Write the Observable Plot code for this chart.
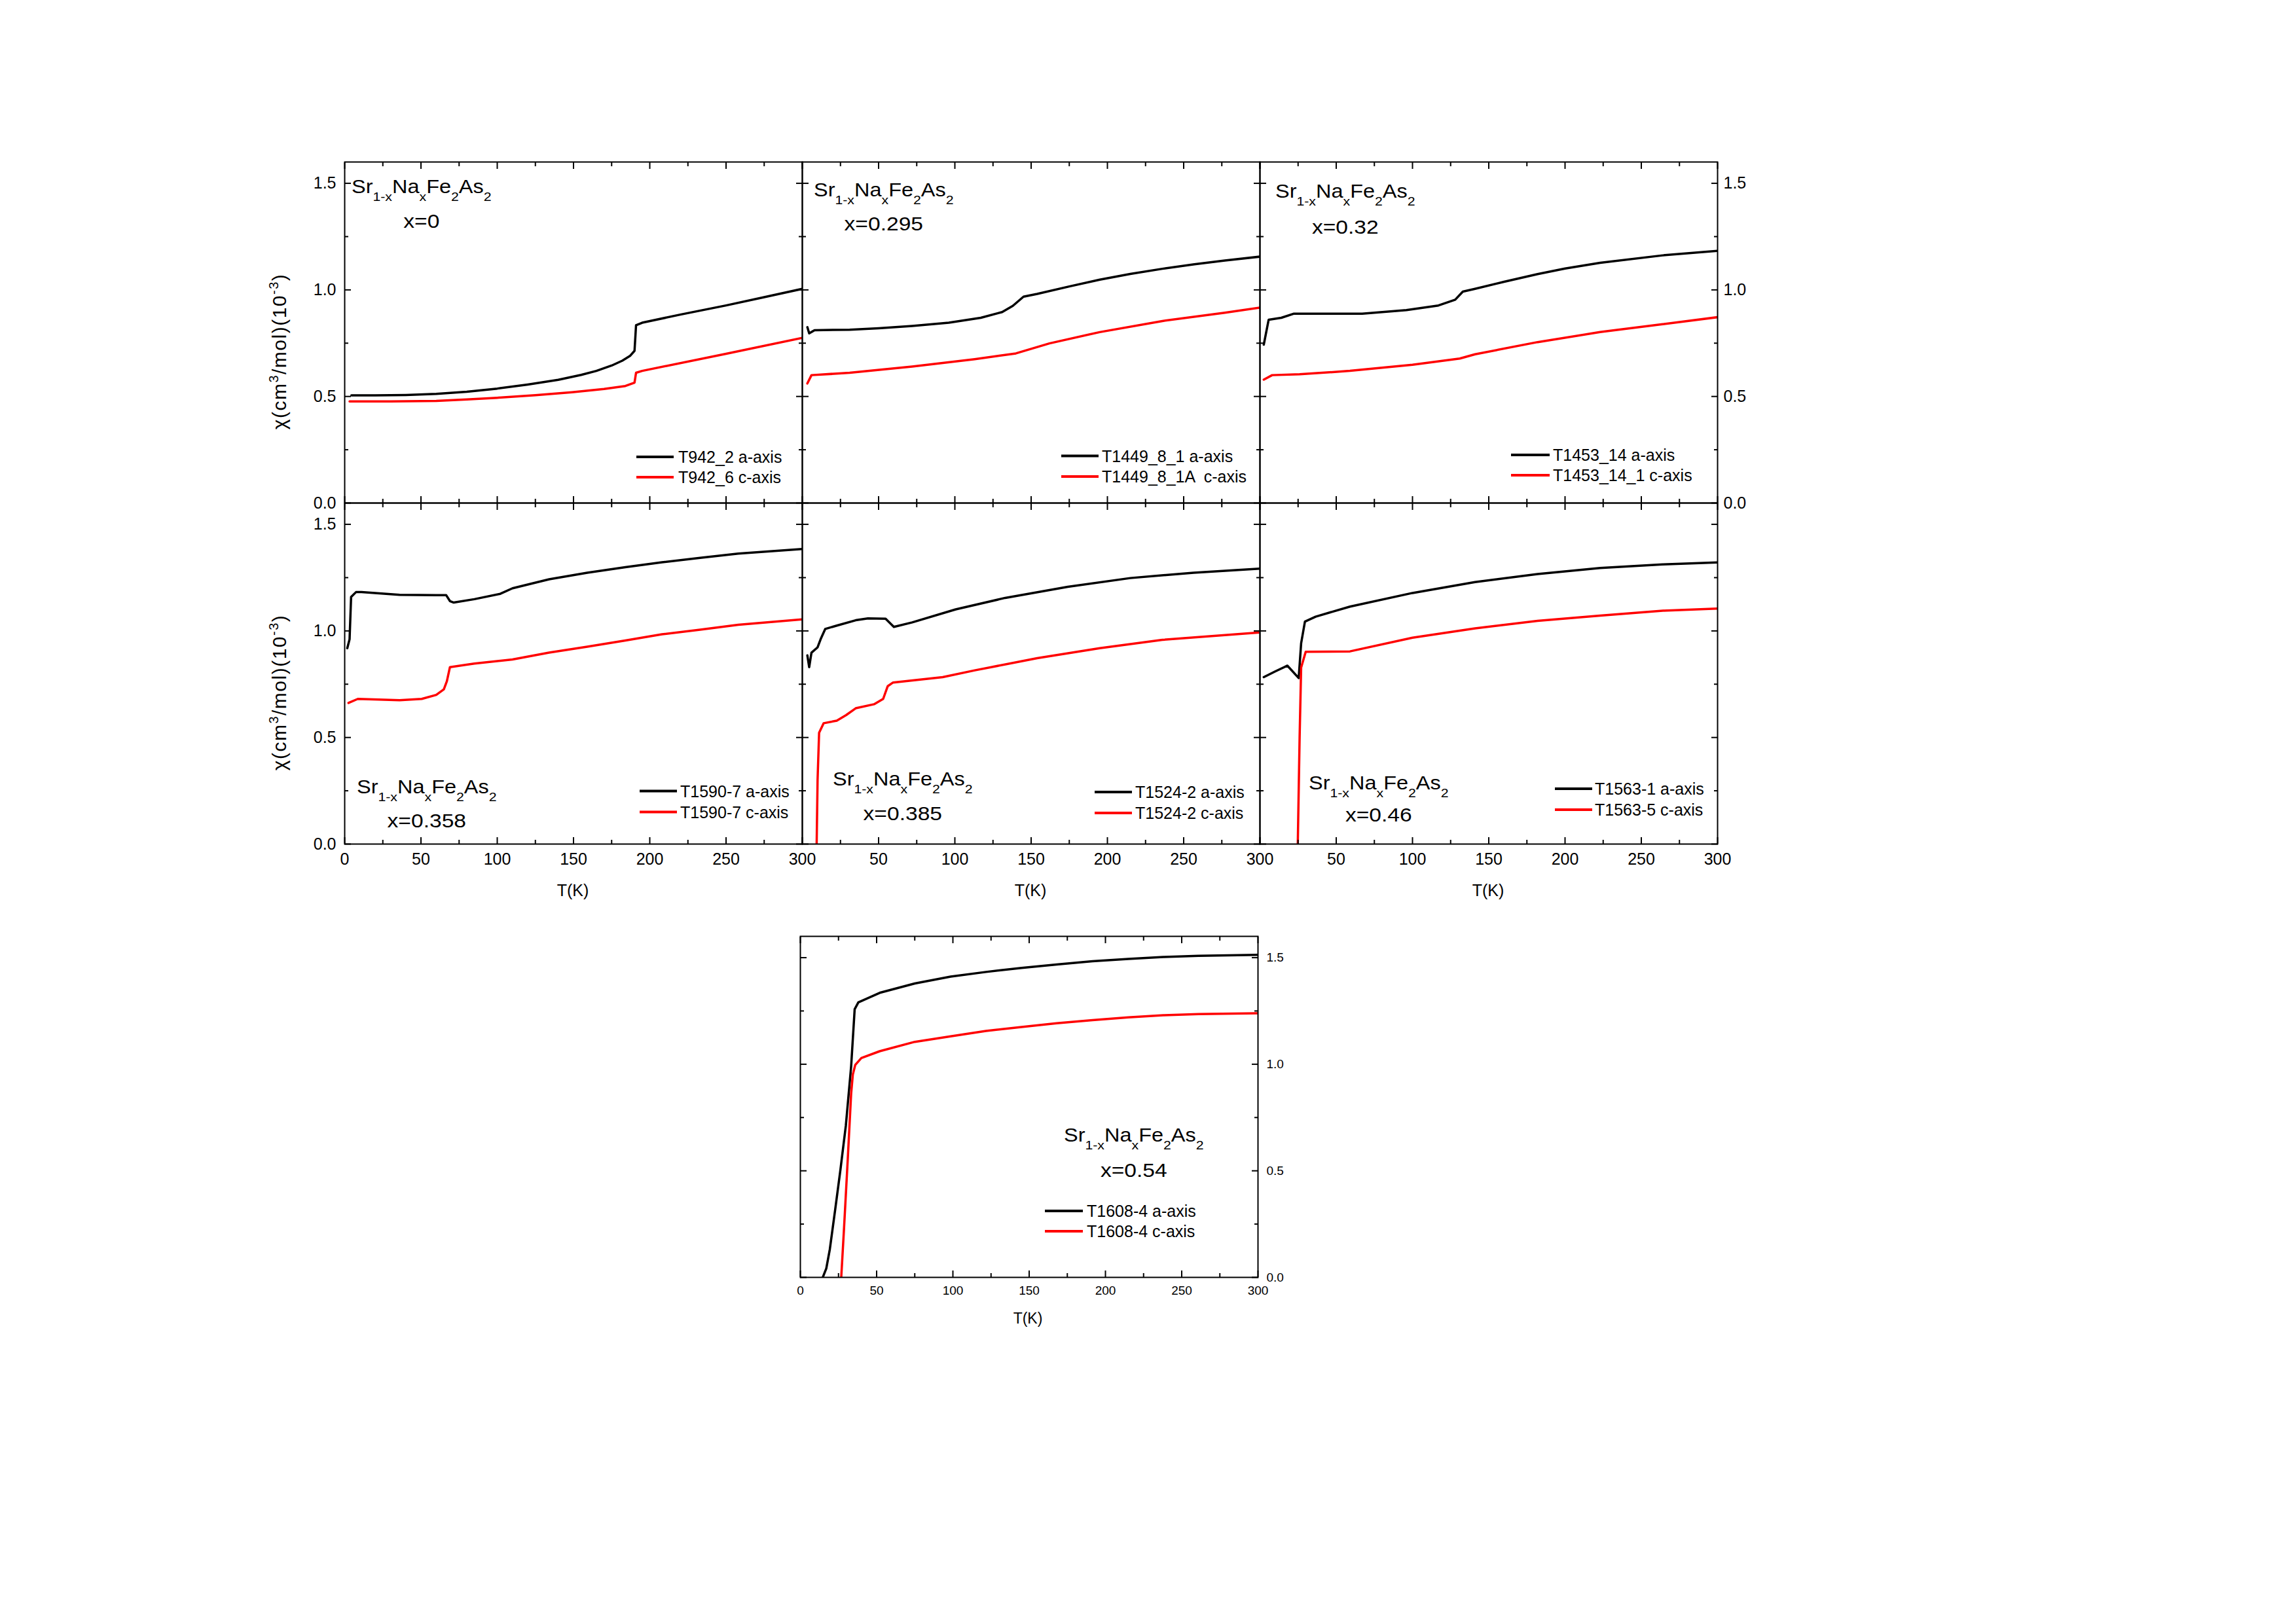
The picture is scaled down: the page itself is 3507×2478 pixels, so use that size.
<!DOCTYPE html>
<html><head><meta charset="utf-8">
<script src="https://cdn.jsdelivr.net/npm/d3@7"></script>
<script src="https://cdn.jsdelivr.net/npm/@observablehq/plot@0.6"></script>
<style>
html,body{margin:0;padding:0;background:#fff;}
#wrap{position:relative;width:3507px;height:2478px;overflow:hidden;background:#fff;}
#wrap > svg{position:absolute;}
</style></head><body><div id="wrap"></div>
<script>
const FONT = "'Liberation Sans', Arial, Helvetica, sans-serif";
const xMajor = [0, 50, 100, 150, 200, 250, 300];
const xMinor = [25, 75, 125, 175, 225, 275];
const yMajor = [0, 0.5, 1.0, 1.5];
const yMinor = [0.25, 0.75, 1.25];
const xLabelsFull = [0, 50, 100, 150, 200, 250, 300];
const xLabelsTrim = [50, 100, 150, 200, 250, 300];
const formulaParts = [["Sr", false], ["1-x", true], ["Na", false], ["x", true], ["Fe", false], ["2", true], ["As", false], ["2", true]];
const yTitleParts = [["χ(cm", false], ["3", true], ["/mol)(10", false], ["-3", true], [")", false]];
const xTitle = "T(K)";

// ---- data: [T (K), chi (10^-3 cm^3/mol)] ----
const x000_a = [[4.4,0.505],[20,0.505],[40,0.507],[60,0.512],[80,0.522],[100,0.537],[120,0.556],[140,0.578],[155,0.601],[165,0.62],[175,0.645],[182,0.668],[187,0.69],[190,0.714],[191,0.834],[195,0.846],[220,0.884],[250,0.927],[275,0.966],[300,1.005]];
const x000_c = [[3.2,0.477],[30,0.477],[60,0.479],[80,0.486],[100,0.494],[125,0.506],[149,0.52],[170,0.535],[184,0.549],[190,0.565],[191,0.611],[195,0.62],[250,0.7],[300,0.775]];
const x0295_a = [[3.3,0.825],[4.5,0.796],[8,0.811],[31,0.813],[50,0.82],[72,0.831],[96,0.846],[117,0.869],[131,0.896],[138,0.925],[145,0.968],[154,0.981],[175,1.016],[195,1.048],[215,1.075],[236,1.099],[257,1.12],[277,1.138],[300,1.156]];
const x0295_c = [[3.3,0.561],[6,0.6],[31,0.611],[72,0.64],[113,0.675],[140,0.702],[162,0.749],[195,0.802],[236,0.854],[277,0.893],[300,0.917]];
const x032_a = [[2.5,0.743],[5.7,0.86],[14,0.869],[22,0.888],[67,0.888],[96,0.905],[117,0.927],[128,0.954],[133,0.992],[141,1.005],[160,1.038],[182,1.074],[200,1.1],[223,1.127],[264,1.162],[300,1.183]];
const x032_c = [[2.5,0.579],[8,0.6],[26,0.604],[59,0.62],[100,0.649],[131,0.678],[141,0.698],[182,0.755],[223,0.802],[264,0.839],[300,0.872]];
const x0358_a = [[1.7,0.919],[3.2,0.961],[4.2,1.159],[7.4,1.182],[11,1.182],[36,1.169],[60,1.168],[66.5,1.168],[69,1.14],[71.5,1.133],[85,1.149],[102,1.174],[110,1.2],[134,1.242],[159,1.273],[184,1.299],[208,1.322],[233,1.343],[258,1.363],[300,1.384]];
const x0358_c = [[2.5,0.662],[8.6,0.681],[36,0.675],[50.5,0.681],[60,0.7],[65,0.726],[67,0.764],[69,0.83],[85,0.847],[110,0.866],[134,0.898],[159,0.926],[184,0.955],[208,0.984],[233,1.006],[258,1.029],[300,1.054]];
const x0385_a = [[3.3,0.885],[4.5,0.83],[6,0.898],[10,0.923],[12,0.961],[15,1.009],[22.6,1.025],[35,1.05],[43,1.059],[54.6,1.057],[60,1.019],[72,1.04],[100.5,1.101],[133,1.155],[174,1.207],[215,1.248],[256.5,1.273],[300,1.292]];
const x0385_c = [[9.4,0],[10,0.3],[11,0.522],[14,0.567],[22.6,0.579],[28.7,0.605],[35,0.637],[47,0.656],[53,0.681],[56,0.741],[59.5,0.758],[92,0.783],[113,0.815],[154,0.872],[195,0.919],[236,0.958],[300,0.993]];
const x046_a = [[2.5,0.783],[10,0.81],[18,0.837],[25.4,0.779],[27,0.942],[29.5,1.044],[36.5,1.067],[59,1.114],[100,1.178],[141,1.229],[182,1.267],[223,1.295],[264,1.312],[300,1.321]];
const x046_c = [[24.8,0],[26,0.5],[27,0.828],[30,0.902],[59,0.904],[100,0.968],[141,1.012],[182,1.047],[223,1.072],[264,1.095],[300,1.105]];
const x054_a = [[14.7,0],[17,0.042],[19.3,0.131],[22.8,0.316],[26.3,0.507],[29.8,0.711],[33.3,0.991],[35.6,1.258],[38,1.29],[52,1.335],[75,1.379],[98.5,1.411],[121.7,1.433],[145,1.452],[168,1.468],[191.5,1.483],[215,1.494],[238,1.503],[261,1.509],[300,1.513]];
const x054_c = [[26.8,0],[28.6,0.227],[31,0.545],[33.3,0.863],[34.4,0.952],[36,0.997],[40,1.029],[52,1.061],[75,1.105],[98.5,1.131],[121.7,1.156],[145,1.175],[168,1.192],[191.5,1.207],[215,1.22],[238,1.23],[261,1.235],[300,1.239]];

const compositions = ["x=0", "x=0.295", "x=0.32", "x=0.358", "x=0.385", "x=0.46", "x=0.54"];
const legendA = ["T942_2 a-axis", "T1449_8_1 a-axis", "T1453_14 a-axis", "T1590-7 a-axis", "T1524-2 a-axis", "T1563-1 a-axis", "T1608-4 a-axis"];
const legendC = ["T942_6 c-axis", "T1449_8_1A  c-axis", "T1453_14_1 c-axis", "T1590-7 c-axis", "T1524-2 c-axis", "T1563-5 c-axis", "T1608-4 c-axis"];
const seriesA = [x000_a, x0295_a, x032_a, x0358_a, x0385_a, x046_a, x054_a];
const seriesC = [x000_c, x0295_c, x032_c, x0358_c, x0385_c, x046_c, x054_c];

// ---- layout (page pixels) ----
const M = 110, W = 699, H = 521;
const layout = [
  {left: 526,  top: 247,  yLabels: "left",  xLabels: null,        yTitle: [437, 537], xT: null,
   f: [537, 295, 348], leg: [972, 1029, 1036, 698, 729]},
  {left: 1225, top: 247,  yLabels: null,    xLabels: null,        yTitle: null, xT: null,
   f: [1243, 300, 352], leg: [1621, 1678, 1683, 696.5, 728]},
  {left: 1924, top: 247,  yLabels: "right", xLabels: null,        yTitle: null, xT: null,
   f: [1948, 302, 357], leg: [2308, 2367, 2372, 695, 726]},
  {left: 526,  top: 768,  yLabels: "left",  xLabels: xLabelsFull, yTitle: [437, 1058], xT: [875, 1360],
   f: [545, 1212, 1264], leg: [977, 1034, 1039, 1208.5, 1240.5]},
  {left: 1225, top: 768,  yLabels: null,    xLabels: xLabelsTrim, yTitle: null, xT: [1574, 1360],
   f: [1272, 1200, 1252.5], leg: [1672, 1729, 1734, 1210, 1242]},
  {left: 1924, top: 768,  yLabels: null,    xLabels: xLabelsTrim, yTitle: null, xT: [2273, 1360],
   f: [1999, 1206, 1255], leg: [2375, 2432, 2436, 1205, 1237]},
  {left: 1222, top: 1430, yLabels: "right", xLabels: xLabelsFull, yTitle: null, xT: [1570, 2014], small: true,
   f: [1625, 1744, 1798], leg: [1596, 1654, 1660, 1850, 1881]}
];

const wrap = document.getElementById("wrap");

function addRich(g, parts, size, subSize, shift, attrs) {
  const t = g.append("text").attr("font-size", size);
  for (const [k, v] of Object.entries(attrs || {})) t.attr(k, v);
  let cur = 0;
  for (const [s, isSub] of parts) {
    const target = isSub ? shift : 0;
    t.append("tspan").attr("font-size", isSub ? subSize : size).attr("dy", target - cur).text(s);
    cur = target;
  }
  return t;
}

layout.forEach((p, i) => {
  const small = !!p.small;
  const fs = small ? 19 : 25;
  const marks = [
    Plot.line(seriesA[i], {x: d => d[0], y: d => d[1], stroke: "#000000", strokeWidth: 3.5, clip: true}),
    Plot.line(seriesC[i], {x: d => d[0], y: d => d[1], stroke: "#ff0000", strokeWidth: 3.5, clip: true}),
    Plot.frame({stroke: "#000", strokeWidth: 2})
  ];
  for (const anchor of ["bottom", "top"]) {
    marks.push(Plot.axisX(xMajor, {anchor, tickSize: -10, strokeWidth: 2, fill: "none", label: null}));
    marks.push(Plot.axisX(xMinor, {anchor, tickSize: -6, strokeWidth: 2, fill: "none", label: null}));
  }
  for (const anchor of ["left", "right"]) {
    marks.push(Plot.axisY(yMajor, {anchor, tickSize: -10, strokeWidth: 2, fill: "none", label: null}));
    marks.push(Plot.axisY(yMinor, {anchor, tickSize: -6, strokeWidth: 2, fill: "none", label: null}));
  }
  if (p.xLabels) marks.push(Plot.axisX(p.xLabels, {anchor: "bottom", tickSize: 0, tickPadding: small ? 13 : 14, fontSize: fs, label: null, tickFormat: d => String(d), fill: "#000"}));
  if (p.yLabels) marks.push(Plot.axisY(yMajor, {anchor: p.yLabels, tickSize: 0, tickPadding: small ? 13 : (p.yLabels === "left" ? 13 : 9), fontSize: fs, label: null, tickFormat: d3.format(".1f"), fill: "#000"}));

  const plot = Plot.plot({
    width: W + 2 * M, height: H + 2 * M, margin: M,
    x: {domain: [0, 300]}, y: {domain: [0, 1.6]},
    style: {background: "none", fontFamily: FONT, overflow: "visible", maxWidth: "none", color: "#000"},
    marks
  });
  const ox = p.left - M, oy = p.top - M;
  plot.style.position = "absolute";
  plot.style.left = ox + "px";
  plot.style.top = oy + "px";
  wrap.appendChild(plot);

  const svg = d3.select(plot);
  const g = svg.append("g").attr("font-family", FONT).attr("fill", "#000").attr("text-anchor", "start");

  // formula + composition
  const sx = 1.12;
  const ft = addRich(g, formulaParts, 29, 19, 12, {"text-anchor": "start", transform: `translate(${p.f[0] - ox},${p.f[1] - oy}) scale(${sx},1)`});
  const fw = ft.node().getComputedTextLength() * sx;
  g.append("text").attr("font-size", 30).attr("text-anchor", "middle")
    .attr("transform", `translate(${p.f[0] - ox + fw / 2},${p.f[2] - oy}) scale(${sx},1)`)
    .text(compositions[i]);

  // legend
  [[legendA[i], "#000000", p.leg[3]], [legendC[i], "#ff0000", p.leg[4]]].forEach(([lab, col, y]) => {
    g.append("line").attr("x1", p.leg[0] - ox).attr("x2", p.leg[1] - ox)
      .attr("y1", y - oy).attr("y2", y - oy).attr("stroke", col).attr("stroke-width", 4);
    g.append("text").attr("x", p.leg[2] - ox).attr("y", y - oy).attr("dy", "0.36em")
      .attr("text-anchor", "start").attr("font-size", 25).style("white-space", "pre").text(lab);
  });

  // axis titles
  if (p.yTitle) {
    addRich(g, yTitleParts, 30, 20, -12, {
      transform: `translate(${p.yTitle[0] - ox},${p.yTitle[1] - oy}) rotate(-90)`,
      "text-anchor": "middle", dy: "0.36em", "letter-spacing": 1.5
    });
  }
  if (p.xT) {
    g.append("text").attr("x", p.xT[0] - ox).attr("y", p.xT[1] - oy).attr("dy", "0.36em")
      .attr("text-anchor", "middle").attr("font-size", small ? 23 : 25).text(xTitle);
  }
});
</script></body></html>
